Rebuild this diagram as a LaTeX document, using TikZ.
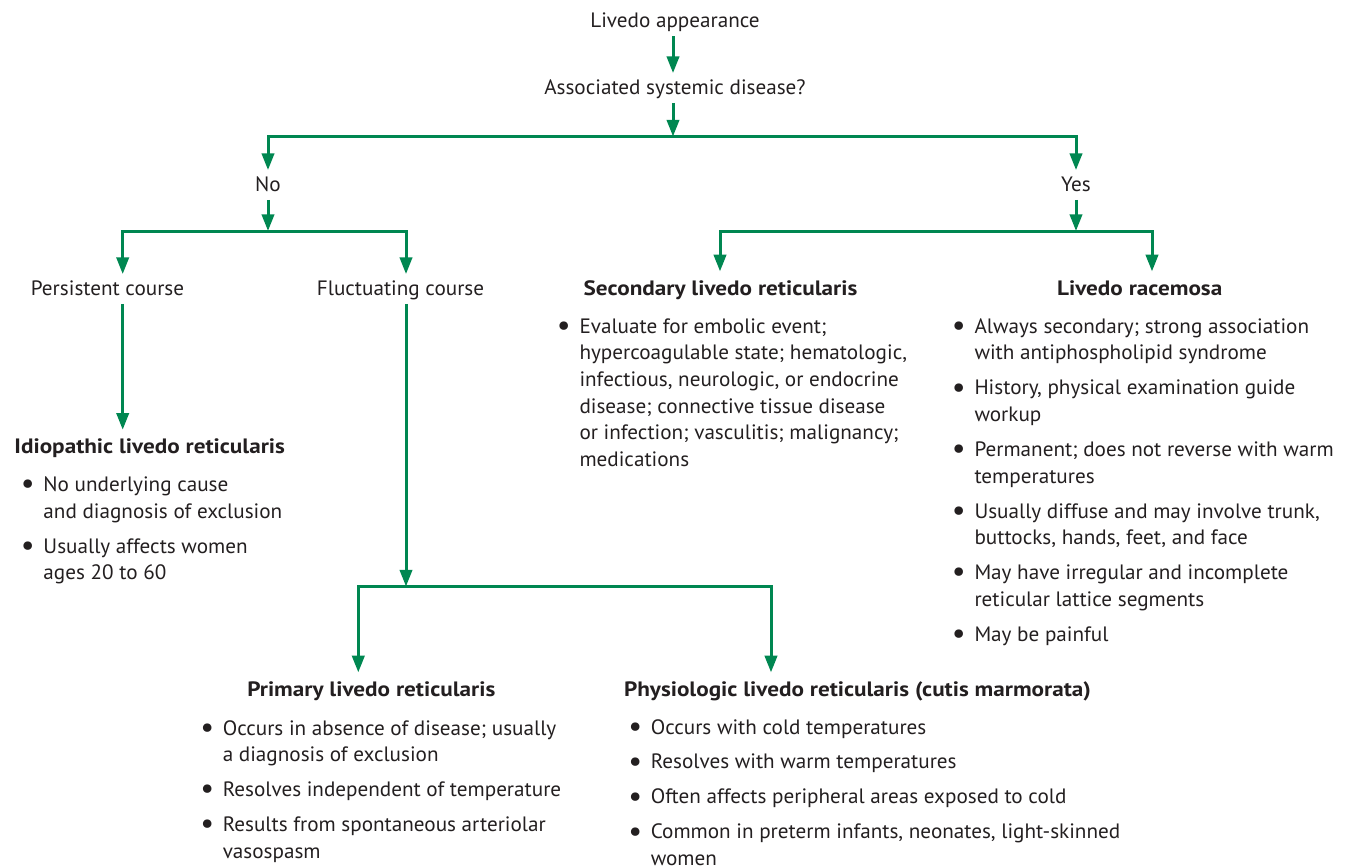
\documentclass[tikz,border=0pt]{standalone}
\usepackage{fontspec}
\setmainfont{PT Sans}[FakeStretch=1.017, BoldFeatures={FakeStretch=1.115}]
\usetikzlibrary{arrows.meta}
\definecolor{lgreen}{RGB}{0,135,81}
\definecolor{ink}{HTML}{231F20}
\newcommand\mainfs{\fontsize{15.6pt}{20pt}\selectfont}
\newcommand\bl{\makebox[16.9pt][l]{\raisebox{-0.22ex}{\scalebox{1.45}{\textbullet}}}}
\newcommand\ind{\hspace*{16.9pt}}
\tikzset{
  conn/.style={draw=lgreen, line width=2.25pt},
  arr/.style={conn, -{Triangle[width=9.2pt,length=12.5pt]}},
  lbl/.style={inner xsep=2pt, inner ysep=3.5pt, text height=12pt, text depth=3pt, anchor=base, text=ink, font=\mainfs},
  head/.style={lbl, text height=14pt, font=\mainfs\bfseries},
  blist/.style={inner sep=0pt, anchor=base west, text=ink, font=\mainfs},
}
\begin{document}
\begin{tikzpicture}[x=0.75pt,y=-0.75pt]
\useasboundingbox (0,0) rectangle (1347,867);
% lanes and junctions
\coordinate (j1) at (673,136.5);
\coordinate (j2) at (268,231);
\coordinate (j4) at (1076,231);
\coordinate (j3) at (406,586.5);
\coordinate (lp) at (122.7,0);
\coordinate (lf) at (406,0);
\coordinate (ls) at (720,0);
\coordinate (lr) at (1152,0);
\coordinate (lpr) at (358.3,0);
\coordinate (lph) at (771,0);
% labels
\node[lbl] (appear) at (675,27.3) {Livedo appearance};
\node[lbl] (assoc) at (675,94) {Associated systemic disease?};
\node[lbl] (no) at (268,191) {No};
\node[lbl] (yes) at (1076,191) {Yes};
\node[lbl] (persist) at (107.5,295) {Persistent course};
\node[lbl] (fluct) at (400.5,295) {Fluctuating course};
% headings
\node[head] (sec) at (720.5,295) {Secondary livedo reticularis};
\node[head] (race) at (1139.7,295) {Livedo racemosa};
\node[head] (idio) at (149.7,453.3) {Idiopathic livedo reticularis};
\node[head] (prim) at (371.3,696) {Primary livedo reticularis};
\node[head] (phys) at (857.5,696) {Physiologic livedo reticularis (cutis marmorata)};
% bullet lists
\node[blist] (idiol) at (20.7,491.7) {\begin{tabular}[t]{@{}l@{}}
\bl No underlying cause\\
\ind and diagnosis of exclusion\\[6.2pt]
\bl Usually affects women\\
\ind ages 20 to 60
\end{tabular}};
\node[blist] (secl) at (556.7,333.3) {\begin{tabular}[t]{@{}l@{}}
\bl Evaluate for embolic event;\\
\ind hypercoagulable state; hematologic,\\
\ind infectious, neurologic, or endocrine\\
\ind disease; connective tissue disease\\
\ind or infection; vasculitis; malignancy;\\
\ind medications
\end{tabular}};
\node[blist] (racel) at (951.7,333.3) {\begin{tabular}[t]{@{}l@{}}
\bl Always secondary; strong association\\
\ind with antiphospholipid syndrome\\[6.2pt]
\bl History, physical examination guide\\
\ind workup\\[6.2pt]
\bl Permanent; does not reverse with warm\\
\ind temperatures\\[6.2pt]
\bl Usually diffuse and may involve trunk,\\
\ind buttocks, hands, feet, and face\\[6.2pt]
\bl May have irregular and incomplete\\
\ind reticular lattice segments\\[6.2pt]
\bl May be painful
\end{tabular}};
\node[blist] (priml) at (200,735) {\begin{tabular}[t]{@{}l@{}}
\bl Occurs in absence of disease; usually\\
\ind a diagnosis of exclusion\\[6.2pt]
\bl Resolves independent of temperature\\[6.2pt]
\bl Results from spontaneous arteriolar\\
\ind vasospasm
\end{tabular}};
\node[blist] (physl) at (628,734) {\begin{tabular}[t]{@{}l@{}}
\bl Occurs with cold temperatures\\[6.2pt]
\bl Resolves with warm temperatures\\[6.2pt]
\bl Often affects peripheral areas exposed to cold\\[6.2pt]
\bl Common in preterm infants, neonates, light-skinned\\
\ind women
\end{tabular}};
% connectors
\draw[arr] (appear.south -| j1) -- (assoc.north -| j1);
\draw[arr] (assoc.south -| j1) -- (j1);
\draw[arr] (j1) -| (no);
\draw[arr] (j1) -| (yes);
\draw[arr] (no) -- (j2);
\draw[arr] (j2) -| (persist.north -| lp);
\draw[arr] (j2) -| (fluct.north -| lf);
\draw[arr] (persist.south -| lp) -- (idio.north -| lp);
\draw[arr] (fluct.south -| lf) -- (j3);
\draw[arr] (j3) -| (prim.north -| lpr);
\draw[arr] (j3) -| (phys.north -| lph);
\draw[arr] (yes) -- (j4);
\draw[arr] (j4) -| (sec.north -| ls);
\draw[arr] (j4) -| (race.north -| lr);
\end{tikzpicture}
\end{document}
